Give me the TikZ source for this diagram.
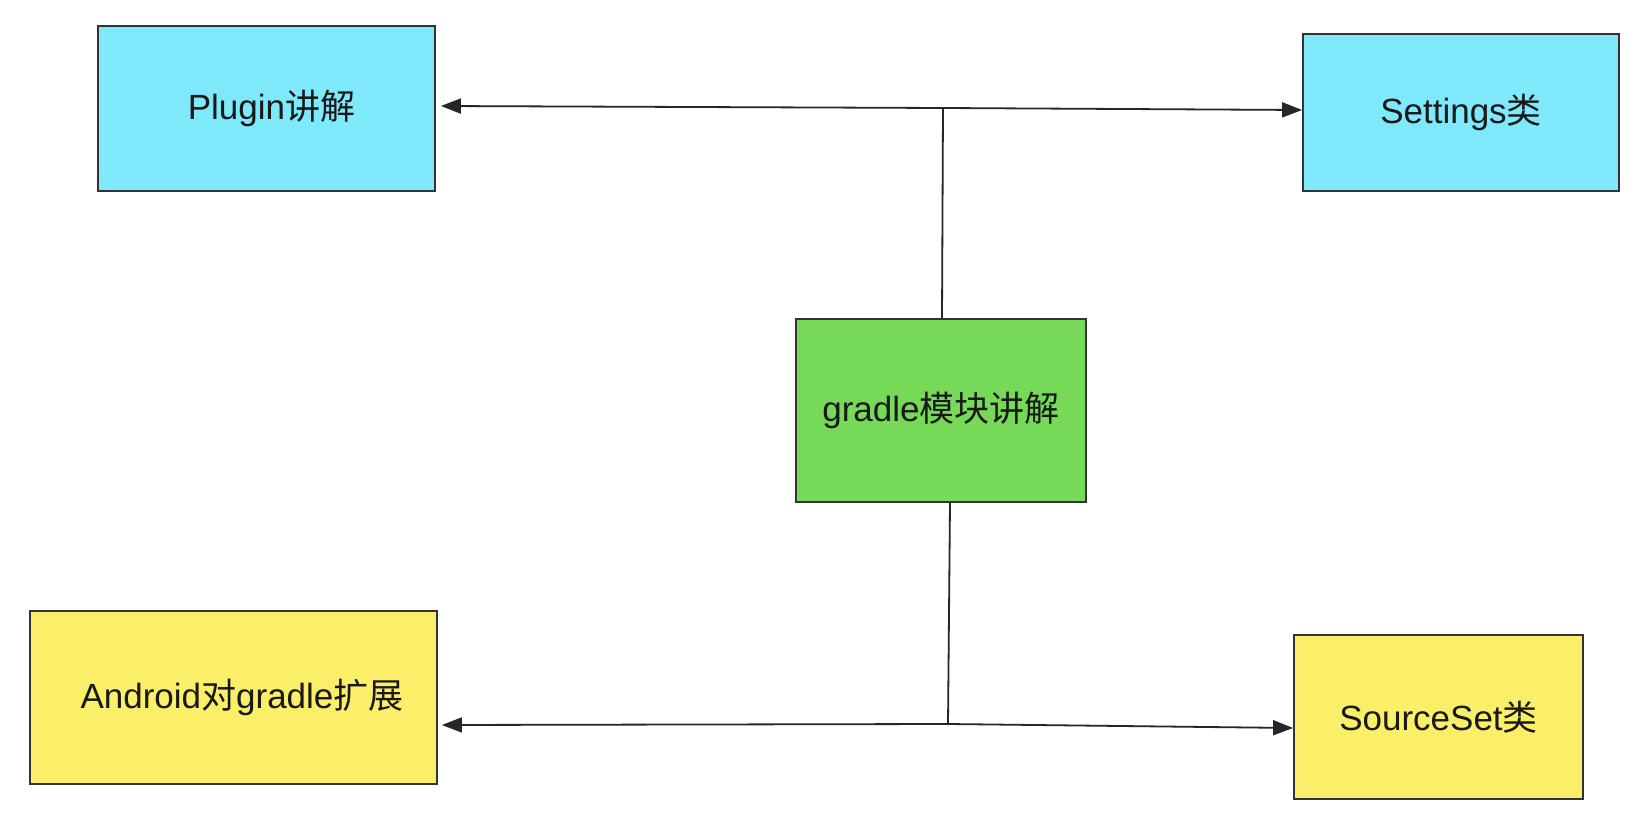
\documentclass[tikz,border=0pt]{standalone}
\usepackage{fontspec}
\setmainfont{Liberation Sans}
\newfontfamily\cjk{Noto Sans CJK SC}
\usetikzlibrary{arrows.meta}
\definecolor{cyanbox}{HTML}{7DE9FB}
\definecolor{greenbox}{HTML}{76D957}
\definecolor{yellowbox}{HTML}{FBEF6A}
\definecolor{edge}{HTML}{333333}
\begin{document}
\begin{tikzpicture}[x=1pt,y=-1pt,
  box/.style={draw=edge,line width=1.8pt,rectangle,inner sep=0pt,
    font=\fontsize{35}{42}\selectfont,text=black!90},
  link/.style={draw=black!85,line width=1.8pt},
  arr/.style={link,-{Triangle[length=20pt,width=15pt]}}]
\fill[white] (0,0) rectangle (1646,826);
\useasboundingbox (0,0) rectangle (1646,826);
\node[box,fill=cyanbox,minimum width=337pt,minimum height=165pt] (pl) at (266.5,108.5) {\hspace*{10pt}Plugin{\cjk 讲解}};
\node[box,fill=cyanbox,minimum width=316pt,minimum height=157pt] (st) at (1461,112.5) {Settings{\cjk 类}};
\node[box,fill=greenbox,minimum width=290pt,minimum height=183pt] (gr) at (941,410.5) {gradle{\cjk 模块讲解}};
\node[box,fill=yellowbox,minimum width=407pt,minimum height=173pt] (an) at (233.5,697.5) {\hspace*{17pt}Android{\cjk 对}gradle{\cjk 扩展}};
\node[box,fill=yellowbox,minimum width=289pt,minimum height=164pt] (ss) at (1438.5,717) {SourceSet{\cjk 类}};
\coordinate (tj) at (943,108);
\coordinate (bj) at (948,724);
\draw[link] ([xshift=1pt]gr.north) -- (tj);
\draw[arr] (tj) -- ([xshift=5pt,yshift=2.5pt]pl.east);
\draw[arr] (tj) -- ([yshift=2.5pt]st.west);
\draw[link] ([xshift=9pt]gr.south) -- (bj);
\draw[arr] (bj) -- ([xshift=4pt,yshift=-27.5pt]an.east);
\draw[arr] (bj) -- ([yshift=-11pt]ss.west);
\end{tikzpicture}
\end{document}
